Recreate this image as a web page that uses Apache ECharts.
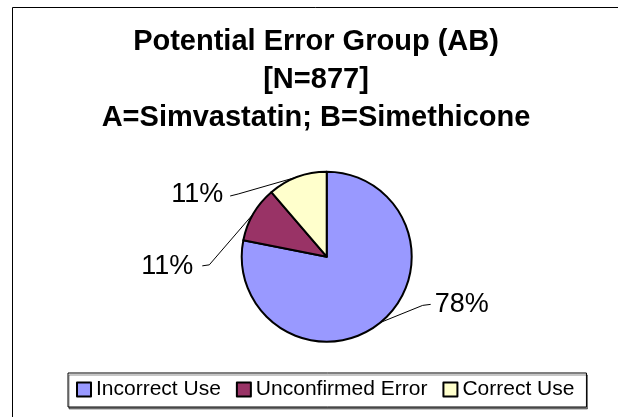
<!DOCTYPE html>
<html>
<head>
<meta charset="utf-8">
<script src="https://cdn.jsdelivr.net/npm/echarts@6/dist/echarts.min.js"></script>
<style>
  html, body { margin: 0; padding: 0; background: #ffffff; }
  #chart { width: 618px; height: 417px; }
</style>
</head>
<body>
<div id="chart"></div>
<script>
// ---- data ----
const titleLines = ['Potential Error Group (AB)', '[N=877]', 'A=Simvastatin; B=Simethicone'];
const categories = ['Incorrect Use', 'Unconfirmed Error', 'Correct Use'];
const counts = [685, 93, 99];

// ---- styles ----
const colors = ['#9999FF', '#993366', '#FFFFCC'];
// label placement relative to the slice anchor point supplied by ECharts
const labelOffsets = [
  { dx: 54, dy: -18, align: 'left', line: [[42, -17], [50, -18]] },
  { dx: -60, dy: 53, align: 'right', line: [[-44, 51], [-51, 52]] },
  { dx: -74, dy: 18, align: 'right', line: [[-59, 17], [-67, 19]] }
];

const chart = echarts.init(document.getElementById('chart'), null, { renderer: 'canvas' });

chart.setOption({
  animation: false,
  backgroundColor: '#ffffff',
  color: colors,
  graphic: [{
    type: 'rect',
    silent: true,
    shape: { x: 12.5, y: 7.5, width: 700, height: 500 },
    style: { fill: 'none', stroke: '#000000', lineWidth: 1 }
  }],
  title: {
    text: titleLines.join('\n'),
    left: 316,
    top: 23,
    textAlign: 'center',
    padding: 0,
    textStyle: {
      fontFamily: 'Liberation Sans, Arial, sans-serif',
      fontSize: 29,
      fontWeight: 'bold',
      lineHeight: 38,
      color: '#000000'
    }
  },
  legend: {
    left: 68,
    top: 373,
    orient: 'horizontal',
    icon: 'rect',
    itemWidth: 14,
    itemHeight: 14,
    itemGap: 15,
    padding: [6, 12, 7, 8],
    backgroundColor: '#ffffff',
    borderColor: '#000000',
    borderWidth: 1,
    borderRadius: 0,
    shadowColor: 'rgba(0,0,0,0.45)',
    shadowOffsetX: 1,
    shadowOffsetY: 2,
    shadowBlur: 0,
    data: categories,
    textStyle: {
      fontFamily: 'Liberation Sans, Arial, sans-serif',
      fontSize: 21,
      color: '#000000'
    }
  },
  series: [{
    type: 'pie',
    center: [326.7, 256.7],
    radius: 85,
    startAngle: 90,
    clockwise: true,
    percentPrecision: 0,
    avoidLabelOverlap: false,
    itemStyle: { borderColor: '#000000', borderWidth: 2 },
    emphasis: { disabled: true },
    label: {
      show: true,
      position: 'outside',
      formatter: '{d}%',
      fontFamily: 'Liberation Sans, Arial, sans-serif',
      fontSize: 27,
      color: '#000000'
    },
    labelLine: {
      show: true,
      length: 20,
      length2: 10,
      lineStyle: { color: '#000000', width: 1 }
    },
    labelLayout: function (params) {
      const o = labelOffsets[params.dataIndex];
      const pts = params.labelLinePoints;
      if (!o || !pts) return {};
      const a = pts[0];
      return {
        x: a[0] + o.dx,
        y: a[1] + o.dy,
        align: o.align,
        verticalAlign: 'middle',
        labelLinePoints: [
          [a[0], a[1]],
          [a[0] + o.line[0][0], a[1] + o.line[0][1]],
          [a[0] + o.line[1][0], a[1] + o.line[1][1]]
        ]
      };
    },
    data: categories.map((name, i) => ({ name: name, value: counts[i] }))
  }]
});
</script>
</body>
</html>
